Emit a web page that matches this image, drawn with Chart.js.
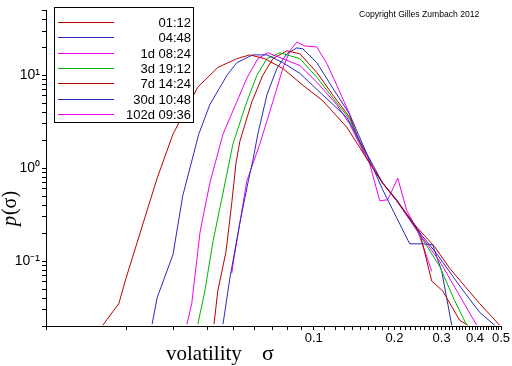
<!DOCTYPE html>
<html><head><meta charset="utf-8">
<script src="https://cdn.jsdelivr.net/npm/chart.js@4.4.1/dist/chart.umd.min.js"></script>
<style>html,body{margin:0;padding:0;background:#fff;}canvas{display:block;}</style>
</head><body>
<canvas id="c" width="512" height="366"></canvas>
<script>
// ---- data ----
const seriesLabels = ['01:12','04:48','1d 08:24','3d 19:12','7d 14:24','30d 10:48','102d 09:36'];
const seriesColors = ['#b80000','#2a2ac0','#f000f0','#00b400','#b80000','#2a2ac0','#f000f0'];

const sigma_0112 = [0.0163,0.0187,0.0199,0.0260,0.0298,0.0369,0.0438,0.0516,0.0577,0.0656,0.0766,0.0910,0.108,0.1328,0.1577,0.1809,0.204,0.2423,0.2828,0.3217,0.4163,0.4943];
const p_0112     = [0.0204,0.0348,0.0655,0.78,2.33,7.47,12.15,15.1,16.6,15.1,11.85,7.84,5.32,2.76,1.27,0.69,0.446,0.232,0.1426,0.0836,0.0348,0.0204];

const sigma_0448 = [0.0249,0.0260,0.0298,0.0324,0.0372,0.0409,0.0474,0.0516,0.0592,0.0668,0.0766,0.0887,0.108,0.1328,0.1577,0.1809,0.204,0.2423,0.2877,0.3506,0.4163,0.4735];
const p_0448     = [0.0209,0.0403,0.1174,0.504,2.33,4.83,10,13.7,16.6,16.6,13.7,10.5,6.15,3.52,1.43,0.69,0.457,0.221,0.120,0.054,0.028,0.0204];

const sigma_1d = [0.0336,0.0350,0.0376,0.0409,0.0458,0.0516,0.0562,0.0618,0.0673,0.0887,0.1026,0.1218,0.1362,0.1577,0.1809,0.204,0.2423,0.2952,0.3506,0.4056];
const p_1d     = [0.0209,0.0348,0.205,0.69,2.33,5.19,9.30,15.1,17.5,12.75,8.44,4.83,2.97,1.27,0.69,0.446,0.2155,0.0995,0.0423,0.0204];

const sigma_3d = [0.0369,0.0392,0.0420,0.0466,0.0499,0.0562,0.0613,0.0668,0.0747,0.0887,0.1026,0.1177,0.1362,0.1577,0.1809,0.204,0.2423,0.2952,0.3358,0.3724];
const p_3d     = [0.0209,0.0478,0.161,0.69,1.83,5.19,10,15.1,17.5,15.1,9.53,5.72,3.35,1.27,0.69,0.446,0.2155,0.0877,0.0374,0.0204];

const sigma_7d = [0.0424,0.0438,0.0470,0.0494,0.0512,0.0530,0.0587,0.0645,0.0703,0.0793,0.0887,0.1026,0.1177,0.1362,0.1577,0.1809,0.204,0.2486,0.2756,0.3029,0.3506,0.3755];
const p_7d     = [0.0209,0.0478,0.126,0.425,1.125,1.965,5.19,10,15.1,18.35,17.06,10.75,6.15,3.52,1.27,0.69,0.446,0.205,0.0609,0.0477,0.023,0.0204];

const sigma_30d = [0.0458,0.0486,0.0530,0.0567,0.0592,0.0618,0.0668,0.0728,0.0793,0.0864,0.0910,0.1026,0.1177,0.1362,0.1577,0.1809,0.2281,0.2551,0.278,0.3004,0.3273];
const p_30d     = [0.0209,0.0655,0.261,0.69,1.209,2.33,6.15,11.85,17.06,19.74,19.27,13.7,7.29,3.785,1.43,0.583,0.1534,0.1534,0.1497,0.0776,0.0204];

const sigma_102d = [0.0494,0.0503,0.0530,0.0562,0.0629,0.0703,0.0766,0.0814,0.0864,0.0926,0.1026,0.1118,0.1218,0.1362,0.1447,0.159,0.1763,0.1889,0.2058,0.2223,0.2423,0.2551,0.2756];
const p_102d     = [0.074,0.1066,0.261,0.726,1.83,5.19,11.85,18.35,22.8,20.7,20.2,13.4,7.84,3.785,2.165,1.332,0.446,0.457,0.781,0.350,0.221,0.1497,0.0776];

const xLabelValues = [0.1,0.2,0.3,0.4,0.5];
const xLabelTexts  = ['0.1','0.2','0.3','0.4','0.5'];
const yLabelValues = [0.1,1,10];
const yLabelTexts  = ['10\u207B\u00B9','10\u2070','10\u00B9'];
const xMin = 0.01, xMax = 0.5, yMin = 0.02, yMax = 50;

// ---- build ----
const sigmas = [sigma_0112,sigma_0448,sigma_1d,sigma_3d,sigma_7d,sigma_30d,sigma_102d];
const ps     = [p_0112,p_0448,p_1d,p_3d,p_7d,p_30d,p_102d];
const datasets = seriesLabels.map((lab,i)=>({
  label: lab,
  data: sigmas[i].map((s,k)=>({x:s,y:ps[i][k]})),
  borderColor: seriesColors[i],
  backgroundColor: seriesColors[i],
  borderWidth: 1,
  pointRadius: 0,
  tension: 0,
  fill: false
}));

function logTicks(min,max){
  const out=[];
  for(let e=-3;e<=3;e++){
    for(let m=1;m<=9;m++){
      const v = +(m*Math.pow(10,e)).toPrecision(6);
      if(v>=min-1e-12 && v<=max+1e-12) out.push(v);
    }
  }
  return out;
}
function labelFor(vals,texts,v){
  for(let i=0;i<vals.length;i++) if(Math.abs(vals[i]-v)<1e-9*Math.max(1,v)) return texts[i];
  return '';
}
const xTickValues = (function(){ // minor ticks every 0.01
  const out=[]; for(let k=1;k<=50;k++) out.push(+(k*0.01).toFixed(2)); return out; })();
const yTickValues = logTicks(yMin,yMax);

const decor = {
  id:'decor',
  afterDraw(chart){
    const ctx = chart.ctx;
    ctx.save();
    // legend box
    ctx.fillStyle='#fff';
    ctx.fillRect(55,8,138,114);
    ctx.strokeStyle='#000'; ctx.lineWidth=1;
    ctx.strokeRect(54.5,7.5,139,115);
    ctx.font = '13px "Liberation Sans", Arial, sans-serif';
    ctx.textAlign='right'; ctx.textBaseline='middle';
    chart.data.datasets.forEach((ds,i)=>{
      const y = Math.round(22 + i*15.33)+0.5;
      ctx.strokeStyle = ds.borderColor;
      ctx.beginPath(); ctx.moveTo(58,y); ctx.lineTo(114,y); ctx.stroke();
      ctx.fillStyle='#000'; ctx.fillText(ds.label, 191, y+0.5);
    });
    // copyright
    ctx.font='8.6px "Liberation Sans", Arial, sans-serif';
    ctx.textAlign='left'; ctx.textBaseline='middle';
    ctx.fillText('Copyright Gilles Zumbach 2012', 359, 15);
    // x title
    ctx.font='21px "Liberation Serif", "Times New Roman", serif';
    ctx.textAlign='left'; ctx.textBaseline='alphabetic';
    ctx.fillText('volatility', 166, 360);
    ctx.font='22px "Liberation Serif", "Times New Roman", serif';
    ctx.fillText('\u03C3', 262, 360);
    // y title
    ctx.translate(16, 209); ctx.rotate(-Math.PI/2);
    const f1='italic 20px "Liberation Serif", serif', f2='20px "Liberation Serif", serif';
    ctx.font=f1; const w1=ctx.measureText('p').width;
    ctx.font=f2; const w2=ctx.measureText('(\u03C3)').width;
    const x0=-(w1+w2)/2;
    ctx.font=f1; ctx.fillText('p', x0, 0);
    ctx.font=f2; ctx.fillText('(\u03C3)', x0+w1+1, 0);
    ctx.restore();
  }
};

Chart.defaults.font.family = '"Liberation Sans", Arial, sans-serif';
Chart.defaults.color = '#000';

new Chart(document.getElementById('c'), {
  type: 'line',
  data: { datasets },
  options: {
    responsive: false,
    animation: false,
    devicePixelRatio: 1,
    layout: { padding: { top: 4, right: 11, left: 0, bottom: 0 } },
    plugins: { legend: { display: false }, tooltip: { enabled: false } },
    scales: {
      x: {
        type: 'logarithmic', min: xMin, max: xMax,
        afterBuildTicks: s => { s.ticks = xTickValues.map(v=>({value:v})); },
        afterFit: s => { s.height = 40; },
        ticks: { autoSkip:false, maxRotation:0, padding:1, font:{size:13}, color:'#000',
                 callback: v => labelFor(xLabelValues,xLabelTexts,v) },
        grid: { drawOnChartArea:false, drawTicks:true, tickLength:4, color:'#000', lineWidth:1 },
        border: { display:true, color:'#000', width:1 }
      },
      y: {
        type: 'logarithmic', min: yMin, max: yMax,
        afterBuildTicks: s => { s.ticks = yTickValues.map(v=>({value:v})); },
        afterFit: s => { s.width = 46; },
        ticks: { autoSkip:false, padding:2, font:{size:14}, color:'#000',
                 callback: v => labelFor(yLabelValues,yLabelTexts,v) },
        grid: { drawOnChartArea:false, drawTicks:true, tickLength:4, color:'#000', lineWidth:1 },
        border: { display:true, color:'#000', width:1 }
      }
    }
  },
  plugins: [decor]
});
</script>
</body></html>
